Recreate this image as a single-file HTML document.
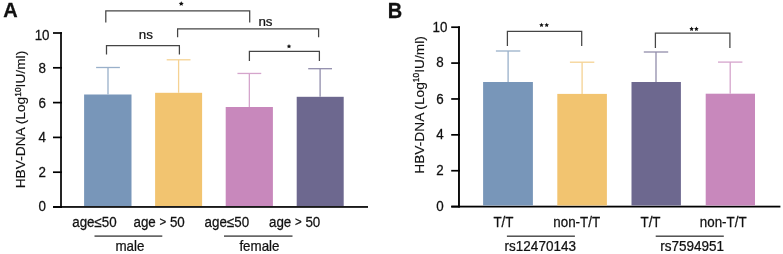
<!DOCTYPE html>
<html><head><meta charset="utf-8"><style>
html,body{margin:0;padding:0;background:#fff;}
svg{display:block;filter:blur(0.3px);}
text{font-family:"Liberation Sans",sans-serif;fill:#111;stroke:#111;stroke-width:0.25px;}
</style></head><body>
<svg width="783" height="254" viewBox="0 0 783 254">
<rect width="783" height="254" fill="#fff"/>
<text transform="translate(3.30,17.20) scale(1.0,1.04)" font-size="20" text-anchor="start" font-weight="bold">A</text>
<rect x="60.15" y="32.20" width="1.70" height="175.60" fill="#000"/>
<rect x="53.00" y="206.15" width="9.00" height="1.70" fill="#000"/>
<text transform="translate(42.10,211.05) scale(0.955,1.03)" font-size="14" text-anchor="middle" >0</text>
<rect x="53.00" y="171.35" width="9.00" height="1.70" fill="#000"/>
<text transform="translate(42.10,176.65) scale(0.955,1.03)" font-size="14" text-anchor="middle" >2</text>
<rect x="53.00" y="136.55" width="9.00" height="1.70" fill="#000"/>
<text transform="translate(42.10,142.25) scale(0.955,1.03)" font-size="14" text-anchor="middle" >4</text>
<rect x="53.00" y="101.75" width="9.00" height="1.70" fill="#000"/>
<text transform="translate(42.10,108.20) scale(0.955,1.03)" font-size="14" text-anchor="middle" >6</text>
<rect x="53.00" y="66.95" width="9.00" height="1.70" fill="#000"/>
<text transform="translate(42.10,73.25) scale(0.955,1.03)" font-size="14" text-anchor="middle" >8</text>
<rect x="53.00" y="32.15" width="9.00" height="1.70" fill="#000"/>
<text transform="translate(42.10,39.65) scale(0.955,1.03)" font-size="14" text-anchor="middle" >10</text>
<rect x="53.20" y="206.10" width="314.80" height="1.70" fill="#000"/>
<rect x="84.10" y="94.50" width="47.40" height="111.50" fill="#7896B9"/>
<line x1="108.00" y1="94.50" x2="108.00" y2="67.50" stroke="#99b0ca" stroke-width="1.3"/>
<line x1="96.10" y1="67.50" x2="119.90" y2="67.50" stroke="#99b0ca" stroke-width="1.3"/>
<rect x="155.10" y="92.80" width="47.00" height="113.20" fill="#F2C470"/>
<line x1="178.60" y1="92.80" x2="178.60" y2="59.80" stroke="#f5d293" stroke-width="1.3"/>
<line x1="166.70" y1="59.80" x2="190.50" y2="59.80" stroke="#f5d293" stroke-width="1.3"/>
<rect x="225.70" y="107.00" width="47.20" height="99.00" fill="#C888BC"/>
<line x1="249.35" y1="107.00" x2="249.35" y2="73.45" stroke="#d5a5cc" stroke-width="1.3"/>
<line x1="237.45" y1="73.45" x2="261.25" y2="73.45" stroke="#d5a5cc" stroke-width="1.3"/>
<rect x="296.70" y="96.80" width="47.00" height="109.20" fill="#6D688F"/>
<line x1="320.10" y1="96.80" x2="320.10" y2="68.70" stroke="#918dab" stroke-width="1.3"/>
<line x1="308.20" y1="68.70" x2="332.00" y2="68.70" stroke="#918dab" stroke-width="1.3"/>
<polyline points="105.80,22.60 105.80,10.75 249.70,10.75 249.70,22.60" fill="none" stroke="#454545" stroke-width="1.25"/>
<polygon points="181.25,1.15 182.01,2.70 183.72,2.95 182.49,4.15 182.78,5.85 181.25,5.05 179.72,5.85 180.01,4.15 178.78,2.95 180.49,2.70" fill="#111"/>
<polyline points="106.50,54.40 106.50,45.70 179.40,45.70 179.40,54.40" fill="none" stroke="#454545" stroke-width="1.25"/>
<text transform="translate(138.80,39.30) scale(0.955,0.95)" font-size="14" text-anchor="start" >ns</text>
<polyline points="177.60,37.20 177.60,28.95 318.60,28.95 318.60,37.20" fill="none" stroke="#454545" stroke-width="1.25"/>
<text transform="translate(258.40,25.50) scale(0.955,0.95)" font-size="14" text-anchor="start" >ns</text>
<polyline points="249.40,60.90 249.40,51.40 319.40,51.40 319.40,60.90" fill="none" stroke="#454545" stroke-width="1.25"/>
<polygon points="289.00,44.00 289.71,45.43 291.28,45.66 290.14,46.77 290.41,48.34 289.00,47.60 287.59,48.34 287.86,46.77 286.72,45.66 288.29,45.43" fill="#111"/>
<text transform="translate(72.20,226.50) scale(0.955,1.03)" font-size="14" text-anchor="start" >age≤50</text>
<text transform="translate(133.50,226.50) scale(0.955,1.03)" font-size="14" text-anchor="start" >age <tspan font-size="12" dy="-0.6">&gt;</tspan><tspan dy="0.6"> 50</tspan></text>
<text transform="translate(204.60,226.50) scale(0.955,1.03)" font-size="14" text-anchor="start" >age≤50</text>
<text transform="translate(269.00,226.50) scale(0.955,1.03)" font-size="14" text-anchor="start" >age <tspan font-size="12" dy="-0.6">&gt;</tspan><tspan dy="0.6"> 50</tspan></text>
<rect x="94.50" y="235.40" width="67.80" height="1.40" fill="#444"/>
<rect x="224.00" y="235.40" width="68.50" height="1.40" fill="#444"/>
<text transform="translate(115.50,251.40) scale(0.955,1.0)" font-size="14" text-anchor="start" >male</text>
<text transform="translate(239.40,251.30) scale(0.955,1.0)" font-size="14" text-anchor="start" >female</text>
<text transform="translate(25.0,119.55) rotate(-90) scale(1.017,1)" font-size="13.5" text-anchor="middle" style="stroke-width:0.15px">HBV-DNA (Log<tspan font-size="8.3" dy="-4.4" style="stroke-width:0.3px">10</tspan><tspan dy="4.4">IU/ml)</tspan></text>
<text transform="translate(387.80,17.50) scale(1.0,1.1)" font-size="20" text-anchor="start" font-weight="bold">B</text>
<rect x="458.05" y="26.40" width="1.85" height="181.00" fill="#000"/>
<rect x="451.20" y="205.75" width="8.80" height="1.70" fill="#000"/>
<text transform="translate(440.00,211.10) scale(0.955,1.03)" font-size="14" text-anchor="middle" >0</text>
<rect x="451.20" y="169.87" width="8.80" height="1.70" fill="#000"/>
<text transform="translate(440.00,174.85) scale(0.955,1.03)" font-size="14" text-anchor="middle" >2</text>
<rect x="451.20" y="133.99" width="8.80" height="1.70" fill="#000"/>
<text transform="translate(440.00,139.05) scale(0.955,1.03)" font-size="14" text-anchor="middle" >4</text>
<rect x="451.20" y="98.11" width="8.80" height="1.70" fill="#000"/>
<text transform="translate(440.00,103.65) scale(0.955,1.03)" font-size="14" text-anchor="middle" >6</text>
<rect x="451.20" y="62.23" width="8.80" height="1.70" fill="#000"/>
<text transform="translate(440.00,67.45) scale(0.955,1.03)" font-size="14" text-anchor="middle" >8</text>
<rect x="451.20" y="26.35" width="8.80" height="1.70" fill="#000"/>
<text transform="translate(440.00,31.90) scale(0.955,1.03)" font-size="14" text-anchor="middle" >10</text>
<rect x="451.30" y="205.70" width="329.10" height="1.80" fill="#000"/>
<rect x="483.10" y="82.00" width="49.80" height="123.50" fill="#7896B9"/>
<line x1="508.10" y1="82.00" x2="508.10" y2="51.00" stroke="#99b0ca" stroke-width="1.3"/>
<line x1="495.90" y1="51.00" x2="520.30" y2="51.00" stroke="#99b0ca" stroke-width="1.3"/>
<rect x="557.30" y="93.90" width="49.60" height="111.60" fill="#F2C470"/>
<line x1="582.10" y1="93.90" x2="582.10" y2="62.20" stroke="#f5d293" stroke-width="1.3"/>
<line x1="569.90" y1="62.20" x2="594.30" y2="62.20" stroke="#f5d293" stroke-width="1.3"/>
<rect x="631.50" y="82.00" width="49.40" height="123.50" fill="#6D688F"/>
<line x1="656.00" y1="82.00" x2="656.00" y2="52.00" stroke="#918dab" stroke-width="1.3"/>
<line x1="643.80" y1="52.00" x2="668.20" y2="52.00" stroke="#918dab" stroke-width="1.3"/>
<rect x="705.70" y="93.70" width="49.30" height="111.80" fill="#C888BC"/>
<line x1="730.20" y1="93.70" x2="730.20" y2="62.10" stroke="#d5a5cc" stroke-width="1.3"/>
<line x1="718.00" y1="62.10" x2="742.40" y2="62.10" stroke="#d5a5cc" stroke-width="1.3"/>
<polyline points="507.40,45.90 507.40,31.30 581.70,31.30 581.70,45.90" fill="none" stroke="#454545" stroke-width="1.25"/>
<polygon points="541.50,22.70 542.21,24.13 543.78,24.36 542.64,25.47 542.91,27.04 541.50,26.30 540.09,27.04 540.36,25.47 539.22,24.36 540.79,24.13" fill="#111"/>
<polygon points="546.70,22.70 547.41,24.13 548.98,24.36 547.84,25.47 548.11,27.04 546.70,26.30 545.29,27.04 545.56,25.47 544.42,24.36 545.99,24.13" fill="#111"/>
<polyline points="655.40,47.90 655.40,33.10 729.90,33.10 729.90,47.90" fill="none" stroke="#454545" stroke-width="1.25"/>
<polygon points="691.60,26.60 692.31,28.03 693.88,28.26 692.74,29.37 693.01,30.94 691.60,30.20 690.19,30.94 690.46,29.37 689.32,28.26 690.89,28.03" fill="#111"/>
<polygon points="696.40,26.60 697.11,28.03 698.68,28.26 697.54,29.37 697.81,30.94 696.40,30.20 694.99,30.94 695.26,29.37 694.12,28.26 695.69,28.03" fill="#111"/>
<text transform="translate(493.40,226.50) scale(0.955,1.03)" font-size="14" text-anchor="start" >T/T</text>
<text transform="translate(553.30,226.50) scale(0.955,1.03)" font-size="14" text-anchor="start" >non-T/T</text>
<text transform="translate(640.50,226.50) scale(0.955,1.03)" font-size="14" text-anchor="start" >T/T</text>
<text transform="translate(699.80,226.50) scale(0.955,1.03)" font-size="14" text-anchor="start" >non-T/T</text>
<rect x="506.90" y="235.50" width="68.00" height="1.40" fill="#444"/>
<rect x="655.70" y="235.50" width="68.10" height="1.40" fill="#444"/>
<text transform="translate(504.60,251.20) scale(0.965,1.0)" font-size="14" text-anchor="start" >rs12470143</text>
<text transform="translate(660.20,251.20) scale(0.965,1.0)" font-size="14" text-anchor="start" >rs7594951</text>
<text transform="translate(423.7,104.95) rotate(-90) scale(1.017,1)" font-size="13.5" text-anchor="middle" style="stroke-width:0.15px">HBV-DNA (Log<tspan font-size="8.3" dy="-4.4" style="stroke-width:0.3px">10</tspan><tspan dy="4.4">IU/ml)</tspan></text>
</svg>
</body></html>
